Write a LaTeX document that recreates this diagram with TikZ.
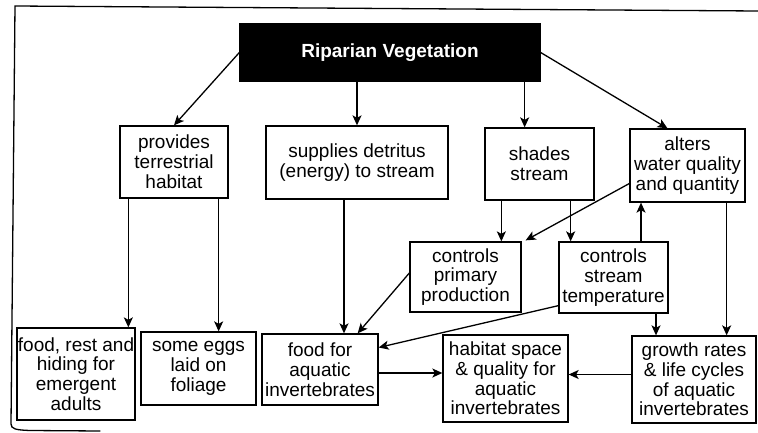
\documentclass[tikz,border=0pt]{standalone}
\usepackage{fontspec}
\setmainfont{Liberation Sans}
\usetikzlibrary{arrows.meta,calc}
\begin{document}
\begin{tikzpicture}[x=1pt,y=-1pt,
  box/.style={draw,line width=1.3pt,align=center,inner sep=0pt,
    font=\fontsize{19}{19.8}\selectfont},
  arr/.style={line width=1.3pt,-{Stealth[length=10pt,width=9pt,inset=2.5pt]}},
  frame/.style={line width=1.3pt,line cap=round}]
\useasboundingbox (0,0) rectangle (758,433);
% outer frame
\draw[frame] (758,11) -- (15,6) -- (11,424) .. controls (11,429) and (16,430) .. (30,430.5) -- (100,431);
% title
\node[box,fill=black,text=white,minimum width=300pt,minimum height=57pt,
  font=\fontsize{19}{20}\selectfont\bfseries] (title) at (390,52.5) {Riparian Vegetation};
% row 2
\node[box,minimum width=108pt,minimum height=72pt] (prov) at (174,162) {provides\\terrestrial\\habitat};
\node[box,minimum width=182pt,minimum height=73pt] (supp) at (357,162.5) {supplies detritus\\(energy) to stream};
\node[box,minimum width=109pt,minimum height=72pt] (shades) at (539.5,164) {shades\\stream};
\node[box,minimum width=115pt,minimum height=73pt] (alters) at (687.5,165.5) {alters\\water quality\\and quantity};
% row 3
\node[box,minimum width=111pt,minimum height=70pt] (ctrlP) at (465.5,277) {controls\\primary\\production};
\node[box,minimum width=109pt,minimum height=71pt] (ctrlT) at (613.5,277.5) {controls\\stream\\temperature};
% row 4
\node[box,minimum width=118pt,minimum height=92pt] (rest) at (76,374) {food, rest and\\hiding for\\emergent\\adults};
\node[box,minimum width=115pt,minimum height=73pt] (eggs) at (198.5,368.5) {some eggs\\laid on\\foliage};
\node[box,minimum width=116pt,minimum height=71pt] (foodfor) at (320,369.5) {food for\\aquatic\\invertebrates};
\node[box,minimum width=125pt,minimum height=87pt] (habitat) at (505.5,378.5) {habitat space\\\& quality for\\aquatic\\invertebrates};
\node[box,minimum width=124pt,minimum height=87pt] (growth) at (694,379.5) {growth rates\\\& life cycles\\of aquatic\\invertebrates};
% arrows from title
\draw[arr] (title.west) -- (prov.north);
\draw[arr] (supp.north |- title.south) -- (supp.north);
\draw[arr] ([xshift=-16pt]title.south east) -- ([xshift=-16pt]title.south east |- shades.north);
\draw[arr] (title.east) -- ([xshift=-20pt]alters.north);
% row 2 to lower
\draw[arr] ([xshift=9pt]prov.south west) -- ([xshift=9pt]prov.south west |- rest.north);
\draw[arr] ([xshift=-10pt]prov.south east) -- ([xshift=-10pt]prov.south east |- eggs.north);
\draw[arr] ([xshift=-13pt]supp.south) -- ([xshift=-13pt]supp.south |- foodfor.north);
\draw[arr] ([xshift=17pt]shades.south west) -- ([xshift=17pt]shades.south west |- ctrlP.north);
\draw[arr] ([xshift=-24pt]shades.south east) -- ([xshift=-24pt]shades.south east |- ctrlT.north);
\draw[arr] ([yshift=-18pt]alters.west) -- ([xshift=4pt,yshift=1pt]ctrlP.north east);
\draw[arr] ([xshift=27.5pt]ctrlT.north) -- ([xshift=27.5pt]ctrlT.north |- alters.south);
\draw[arr] ([xshift=-19pt]alters.south east) -- ([xshift=-19pt]alters.south east |- growth.north);
\draw[arr] ([xshift=42.5pt]ctrlT.south) -- ([xshift=42.5pt]ctrlT.south |- growth.north);
% row 3 to row 4
\draw[arr] ([yshift=4pt]ctrlP.west) -- ([xshift=-21pt]foodfor.north east);
\draw[arr] ([yshift=8pt]ctrlT.south west) -- ([yshift=22pt]foodfor.east);
\draw[arr] ([yshift=-3.5pt]foodfor.east) -- ([yshift=-3.5pt]foodfor.east -| habitat.west);
\draw[arr] ([yshift=5pt]growth.west) -- ([yshift=5pt]growth.west -| habitat.east);
\end{tikzpicture}
\end{document}
